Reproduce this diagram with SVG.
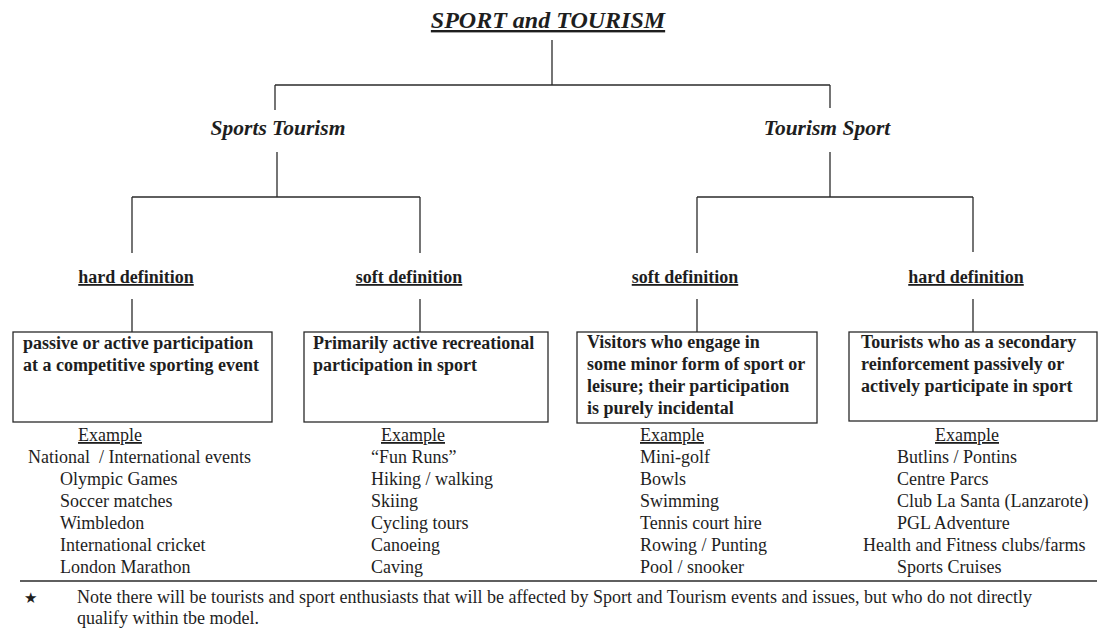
<svg xmlns="http://www.w3.org/2000/svg" width="1099" height="628" viewBox="0 0 1099 628">
<style>
text{font-family:"Liberation Serif","Times New Roman",serif;fill:#1e1e1e}
.title{font-size:24px;font-weight:bold;font-style:italic;text-decoration:underline}
.branch{font-size:21.5px;font-weight:bold;font-style:italic}
.def{font-size:18px;font-weight:bold;text-decoration:underline}
.box{font-size:18px;font-weight:bold}
.ex{font-size:18px}
.exh{font-size:18px;text-decoration:underline}
.note{font-size:18px}
.star{font-family:"DejaVu Sans",sans-serif;font-size:15px}
line,rect.node{stroke:#2a2a2a;stroke-width:1.3;fill:none}
</style>
<rect x="0" y="0" width="1099" height="628" fill="#ffffff"/>
<g id="connectors">
<line x1="552" y1="40" x2="552" y2="85"/>
<line x1="275" y1="85" x2="830" y2="85"/>
<line x1="275" y1="85" x2="275" y2="110"/>
<line x1="830" y1="85" x2="830" y2="108"/>
<line x1="277" y1="152" x2="277" y2="197"/>
<line x1="132" y1="197" x2="420" y2="197"/>
<line x1="132" y1="197" x2="132" y2="253"/>
<line x1="420" y1="197" x2="420" y2="253"/>
<line x1="830" y1="152" x2="830" y2="197"/>
<line x1="697" y1="197" x2="973" y2="197"/>
<line x1="697" y1="197" x2="697" y2="253"/>
<line x1="973" y1="197" x2="973" y2="252"/>
<line x1="132" y1="299" x2="132" y2="332"/>
<line x1="420" y1="299" x2="420" y2="332"/>
<line x1="697" y1="299" x2="697" y2="332"/>
<line x1="973" y1="299" x2="973" y2="332"/>
</g>
<g id="title"><text class="title" x="548" y="28" text-anchor="middle">SPORT and TOURISM</text></g>
<g id="sports-tourism"><text class="branch" x="278" y="135" text-anchor="middle">Sports Tourism</text></g>
<g id="tourism-sport"><text class="branch" x="827" y="135" text-anchor="middle">Tourism Sport</text></g>
<g id="st-hard-label"><text class="def" x="136" y="283" text-anchor="middle">hard definition</text></g>
<g id="st-soft-label"><text class="def" x="409" y="283" text-anchor="middle">soft definition</text></g>
<g id="ts-soft-label"><text class="def" x="685" y="283" text-anchor="middle">soft definition</text></g>
<g id="ts-hard-label"><text class="def" x="966" y="283" text-anchor="middle">hard definition</text></g>
<g id="st-hard-box">
<rect class="node" x="13" y="332" width="259" height="90"/>
<text class="box" x="23" y="349">passive or active participation</text>
<text class="box" x="23" y="371">at a competitive sporting event</text>
</g>
<g id="st-soft-box">
<rect class="node" x="304" y="332" width="244" height="90"/>
<text class="box" x="313" y="349">Primarily active recreational</text>
<text class="box" x="313" y="371">participation in sport</text>
</g>
<g id="ts-soft-box">
<rect class="node" x="577" y="332" width="240" height="91"/>
<text class="box" x="587" y="348">Visitors who engage in</text>
<text class="box" x="587" y="370">some minor form of sport or</text>
<text class="box" x="587" y="392">leisure; their participation</text>
<text class="box" x="587" y="414">is purely incidental</text>
</g>
<g id="ts-hard-box">
<rect class="node" x="849" y="332" width="248" height="89"/>
<text class="box" x="861" y="348">Tourists who as a secondary</text>
<text class="box" x="861" y="370">reinforcement passively or</text>
<text class="box" x="861" y="392">actively participate in sport</text>
</g>
<g id="st-hard-examples">
<text class="exh" x="78" y="441">Example</text>
<text class="ex" x="28" y="463" xml:space="preserve">National  / International events</text>
<text class="ex" x="60" y="485">Olympic Games</text>
<text class="ex" x="60" y="507">Soccer matches</text>
<text class="ex" x="60" y="529">Wimbledon</text>
<text class="ex" x="60" y="551">International cricket</text>
<text class="ex" x="60" y="573">London Marathon</text>
</g>
<g id="st-soft-examples">
<text class="exh" x="381" y="441">Example</text>
<text class="ex" x="371" y="463">“Fun Runs”</text>
<text class="ex" x="371" y="485">Hiking / walking</text>
<text class="ex" x="371" y="507">Skiing</text>
<text class="ex" x="371" y="529">Cycling tours</text>
<text class="ex" x="371" y="551">Canoeing</text>
<text class="ex" x="371" y="573">Caving</text>
</g>
<g id="ts-soft-examples">
<text class="exh" x="640" y="441">Example</text>
<text class="ex" x="640" y="463">Mini-golf</text>
<text class="ex" x="640" y="485">Bowls</text>
<text class="ex" x="640" y="507">Swimming</text>
<text class="ex" x="640" y="529">Tennis court hire</text>
<text class="ex" x="640" y="551">Rowing / Punting</text>
<text class="ex" x="640" y="573">Pool / snooker</text>
</g>
<g id="ts-hard-examples">
<text class="exh" x="935" y="441">Example</text>
<text class="ex" x="897" y="463">Butlins / Pontins</text>
<text class="ex" x="897" y="485">Centre Parcs</text>
<text class="ex" x="897" y="507">Club La Santa (Lanzarote)</text>
<text class="ex" x="897" y="529">PGL Adventure</text>
<text class="ex" x="863" y="551">Health and Fitness clubs/farms</text>
<text class="ex" x="897" y="573">Sports Cruises</text>
</g>
<g id="footnote">
<line x1="20" y1="581" x2="1097" y2="581"/>
<text class="star" x="24" y="603">★</text>
<text class="note" x="77" y="603">Note there will be tourists and sport enthusiasts that will be affected by Sport and Tourism events and issues, but who do not directly</text>
<text class="note" x="77" y="624">qualify within tbe model.</text>
</g>
</svg>
